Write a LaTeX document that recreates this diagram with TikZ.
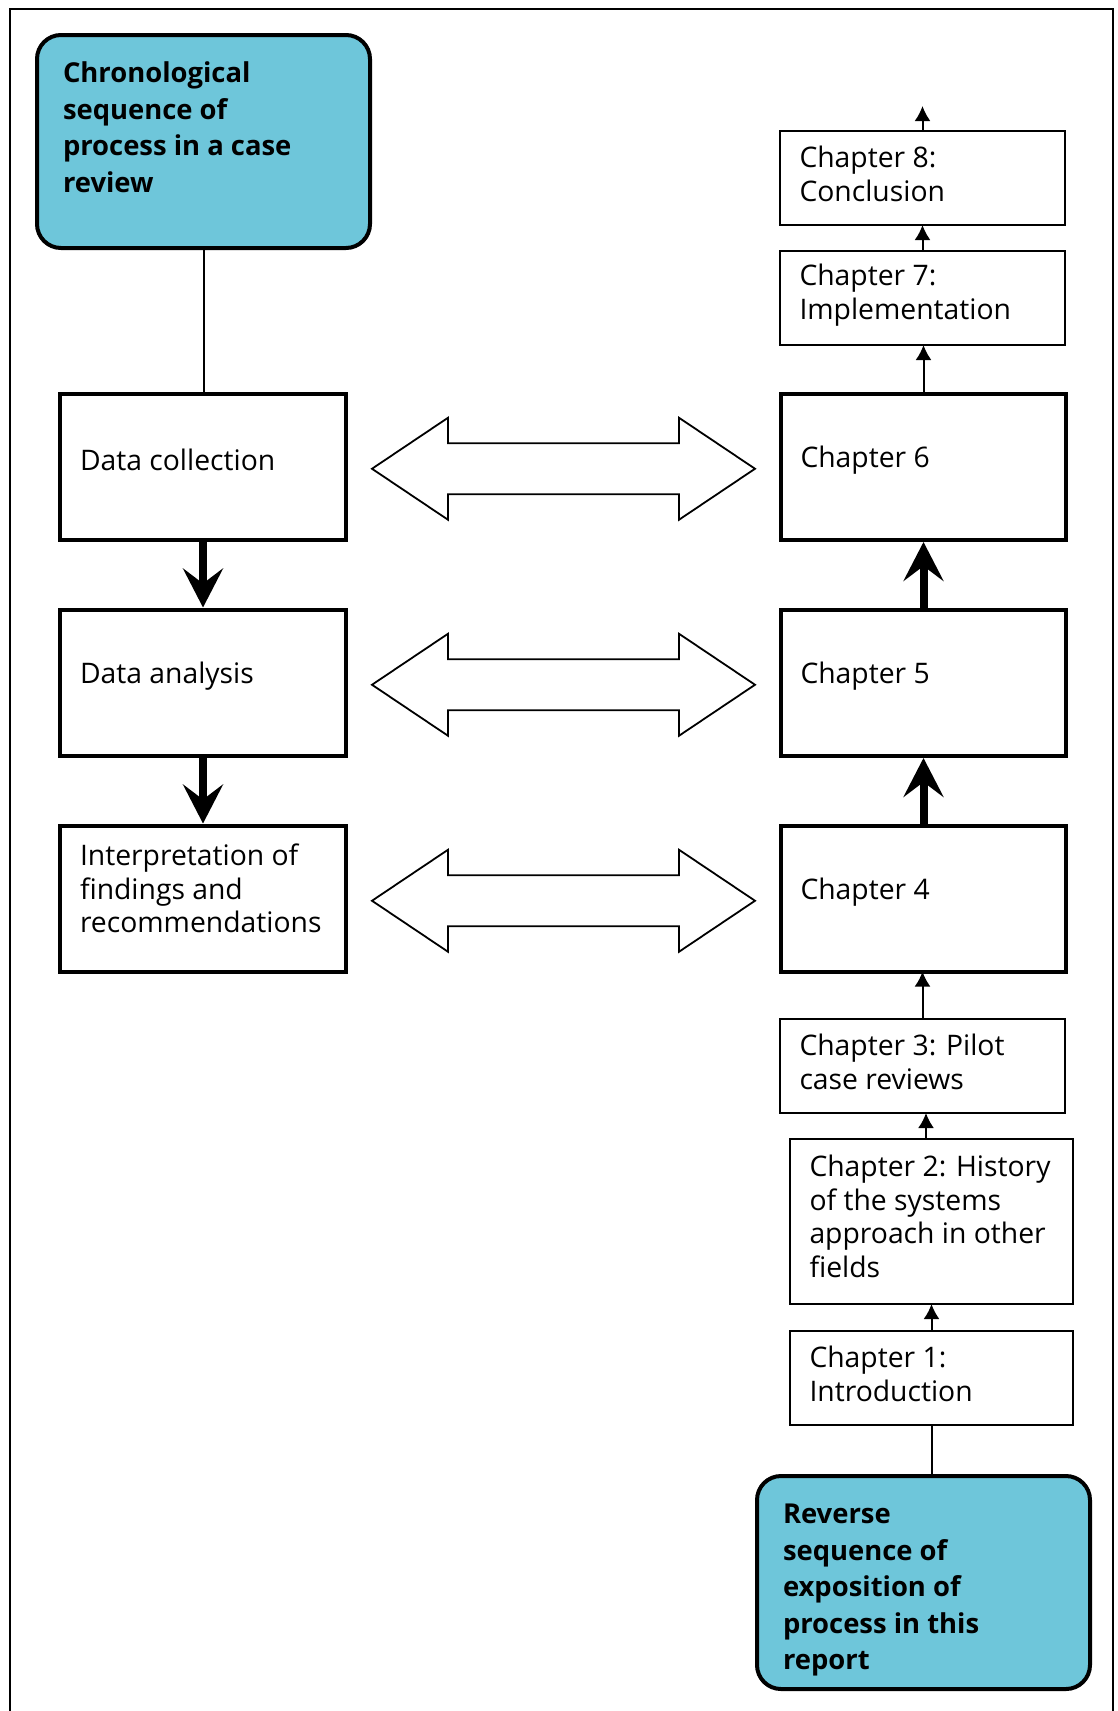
\documentclass[tikz,border=0pt]{standalone}
\usepackage{fontspec}
\setmainfont{Open Sans}
\usetikzlibrary{arrows.meta,calc}
\definecolor{boxblue}{RGB}{110,198,218}
\newcommand\dblarr[2]{%
  \draw[dblarrow] let \p1=($(#1.east)+(26,2)$), \p2=($(#2.west)+(-26,2)$) in
    (\p1) -- (\x1+76pt,\y1+51pt) -- (\x1+76pt,\y1+25.5pt) -- (\x2-76pt,\y2+25.5pt)
    -- (\x2-76pt,\y2+51pt) -- (\p2) -- (\x2-76pt,\y2-51pt) -- (\x2-76pt,\y2-25.5pt)
    -- (\x1+76pt,\y1-25.5pt) -- (\x1+76pt,\y1-51pt) -- cycle;}
\begin{document}
\begin{tikzpicture}[x=1pt,y=-1pt,
  every node/.style={inner sep=0pt,outer sep=0pt},
  thickbox/.style={draw,line width=4pt,minimum width=286pt,minimum height=145.5pt},
  thinbox/.style={draw,line width=2pt,minimum width=285pt,minimum height=94pt},
  bluebox/.style={draw,line width=4pt,fill=boxblue,rounded corners=24pt,minimum width=333pt,minimum height=213pt},
  txt/.style={font=\fontsize{28.3}{33.5}\selectfont,align=left,anchor=west},
  btxt/.style={font=\fontsize{27.4}{36.5}\selectfont\bfseries,align=left,anchor=north west},
  bigarrow/.style={line width=8pt,shorten >=2.5pt,-{Stealth[length=39pt,width=40pt,inset=15pt]}},
  smallarrow/.style={line width=2pt,-{Latex[length=15pt,width=16pt]}},
  link/.style={line width=2pt},
  dblarrow/.style={line width=1.8pt,line join=miter},
  frame/.style={line width=2.5pt}
]
\useasboundingbox (0,0) rectangle (1117,1711);
\draw[frame] (10,1712) -- (10,9) -- (1113,9) -- (1113,1712);

% left column
\node[bluebox] (chrono) at (203.5,141.5) {};
\node[thickbox] (dc) at (203,466.75) {};
\node[thickbox] (da) at (203,682.75) {};
\node[thickbox] (interp) at (203,898.75) {};

% right column
\node[thinbox] (ch8) at (922.5,178) {};
\node[thinbox] (ch7) at (922.5,298) {};
\node[thickbox,minimum width=285pt] (ch6) at (923.5,466.75) {};
\node[thickbox,minimum width=285pt] (ch5) at (923.5,682.75) {};
\node[thickbox,minimum width=285pt] (ch4) at (923.5,898.75) {};
\node[thinbox] (ch3) at (922.5,1066) {};
\node[thinbox,minimum width=283pt,minimum height=165pt] (ch2) at (931.5,1221.5) {};
\node[thinbox,minimum width=283pt] (ch1) at (931.5,1378) {};
\node[bluebox] (rev) at (923.5,1582.5) {};
\coordinate (ch8top) at (922.5,106);

% texts
\node[btxt] (t-chrono) at ($(chrono.north west)+(26,27)$) {Chronological\\sequence of\\process in a case\\review};
\node[btxt] (t-rev) at ($(rev.north west)+(26,28)$) {Reverse\\sequence of\\exposition of\\process in this\\report};
\node[txt] (t-dc) at ($(dc.west)+(20,-7)$) {Data collection};
\node[txt] (t-da) at ($(da.west)+(20,-7)$) {Data analysis};
\node[txt] (t-interp) at ($(interp.west)+(20,-10)$) {Interpretation of\\findings and\\recommendations};
\node[txt] (t-ch8) at ($(ch8.west)+(19.5,-4)$) {Chapter 8:\\Conclusion};
\node[txt] (t-ch7) at ($(ch7.west)+(19.5,-3)$) {Chapter 7:\\Implementation};
\node[txt] (t-ch6) at ($(ch6.west)+(19.5,-7)$) {Chapter 6};
\node[txt] (t-ch5) at ($(ch5.west)+(19.5,-7)$) {Chapter 5};
\node[txt] (t-ch4) at ($(ch4.west)+(19.5,-7)$) {Chapter 4};
\node[txt] (t-ch3) at ($(ch3.west)+(19.5,-4)$) {Chapter 3: Pilot\\case reviews};
\node[txt] (t-ch2) at ($(ch2.west)+(19.5,-5)$) {Chapter 2: History\\of the systems\\approach in other\\fields};
\node[txt] (t-ch1) at ($(ch1.west)+(19.5,-4)$) {Chapter 1:\\Introduction};

% connectors
\draw[link] (chrono.south) -- (chrono.south |- dc.north);
\draw[bigarrow] (dc.south) -- (da.north);
\draw[bigarrow] (da.south) -- (interp.north);
\draw[bigarrow] (ch4.north) -- (ch5.south);
\draw[bigarrow] (ch5.north) -- (ch6.south);
\draw[smallarrow] (ch6.north) -- (ch6.north |- ch7.south);
\draw[smallarrow] (ch7.north) -- (ch8.south);
\draw[smallarrow] (ch8.north) -- (ch8top);
\draw[smallarrow] (ch3.north) -- (ch3.north |- ch4.south);
\draw[smallarrow] ([xshift=-5.5pt]ch2.north) -- ([xshift=-5.5pt]ch2.north |- ch3.south);
\draw[smallarrow] (ch1.north) -- (ch2.south);
\draw[link] (ch1.south) -- (ch1.south |- rev.north);

% double arrows
\dblarr{dc}{ch6}
\dblarr{da}{ch5}
\dblarr{interp}{ch4}
\end{tikzpicture}
\end{document}
